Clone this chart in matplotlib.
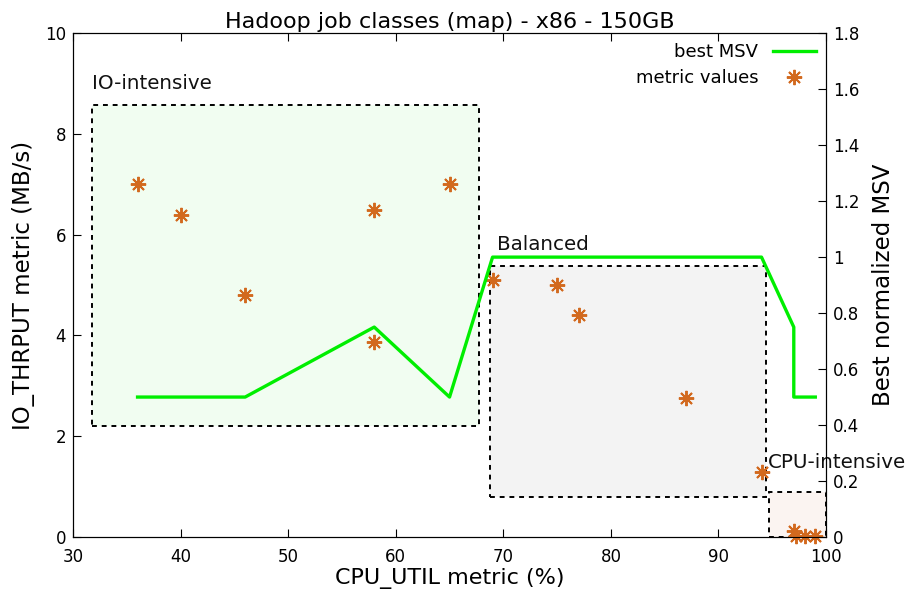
import matplotlib
matplotlib.use("Agg")
import matplotlib.pyplot as plt
from matplotlib.patches import Rectangle

# metric values (CPU_UTIL %, IO_THRPUT MB/s)
cpu_util = [36, 40, 46, 58, 65, 58, 69, 75, 77, 87, 94, 97, 97.2, 98, 99]
io_thrput = [7.0, 6.4, 4.8, 6.5, 7.0, 3.87, 5.1, 5.0, 4.4, 2.75, 1.3, 0.12, 0.02, 0.02, 0.02]

# best normalized MSV line
msv_x = [36, 46, 58, 65, 69, 94, 97, 97, 99]
msv_y = [0.5, 0.5, 0.75, 0.5, 1.0, 1.0, 0.75, 0.5, 0.5]

# job class regions: name, (x0, y0, x1, y1), fill, label position
class_names = ["IO-intensive", "Balanced", "CPU-intensive"]
class_boxes = [(31.8, 2.2, 67.7, 8.57), (68.8, 0.79, 94.4, 5.38), (94.7, 0.0, 100, 0.89)]
class_fills = ["#f1fdf1", "#f3f3f3", "#fbf4f1"]
class_label_xy = [(31.8, 8.82), (69.4, 5.62), (94.6, 1.3)]

plt.rcParams["font.family"] = ["DejaVu Sans"]

fig = plt.figure(figsize=(9.15, 5.92), dpi=100)
ax = fig.add_axes([0.0798, 0.0929, 0.823, 0.851])
ax2 = ax.twinx()

for name, (x0, y0, x1, y1), fc, (lx, ly) in zip(class_names, class_boxes, class_fills, class_label_xy):
    ax.add_patch(Rectangle((x0, y0), x1 - x0, y1 - y0, facecolor=fc, edgecolor="black",
                           linestyle=(0, (2.5, 2.5)), linewidth=1.4, zorder=1))
    ax.text(lx, ly, name, fontsize=14.3, color="#111111", ha="left", va="bottom", zorder=5)

pts = ax.plot(cpu_util, io_thrput, linestyle="none", marker=(8, 2, 0), markersize=11,
              markeredgewidth=1.4, color="#d2691e", label="metric values", zorder=4,
              clip_on=False)[0]
line = ax2.plot(msv_x, msv_y, color="#00ee00", linewidth=2.4, label="best MSV")[0]

ax.set_xlim(30, 100)
ax.set_ylim(0, 10)
ax2.set_ylim(0, 1.8)
ax.set_xticks(range(30, 101, 10))
ax.set_yticks(range(0, 11, 2))
ax2.set_yticks([i * 0.2 for i in range(10)])
ax2.set_yticklabels(["0", "0.2", "0.4", "0.6", "0.8", "1", "1.2", "1.4", "1.6", "1.8"])

ax.tick_params(direction="in", length=6, labelsize=12, top=True, right=False, pad=5)
ax.tick_params(axis="x", pad=8)
ax2.tick_params(direction="in", length=6, labelsize=12, pad=5)

ax.set_xlabel("CPU_UTIL metric (%)", fontsize=16, labelpad=1)
ax.set_ylabel("IO_THRPUT metric (MB/s)", fontsize=16.5, labelpad=7)
ax2.set_ylabel("Best normalized MSV", fontsize=16.5, labelpad=9)
ax.set_title("Hadoop job classes (map) - x86 - 150GB", fontsize=16, pad=4)

ax2.legend(handles=[line, pts], loc="upper right", frameon=False, markerfirst=False,
           fontsize=13, handlelength=2.4, borderaxespad=0.15, labelspacing=0.45)

fig.savefig("out.png", dpi=100)
